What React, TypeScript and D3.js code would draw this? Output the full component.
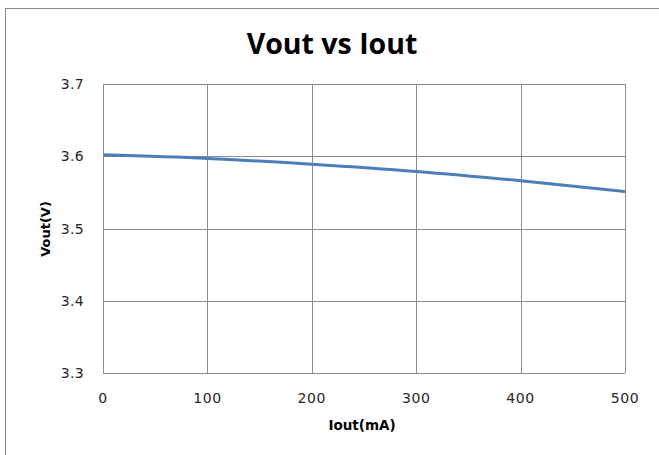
import React, { useEffect, useRef } from "react";
import * as d3 from "d3";

const iout = [0, 100, 200, 300, 400, 500];
const vout = [3.602, 3.597, 3.589, 3.579, 3.566, 3.551];
const xTicks = [0, 100, 200, 300, 400, 500];
const yTicks = [3.3, 3.4, 3.5, 3.6, 3.7];

const W = 659;
const H = 455;
const margin = { top: 84, right: 34, bottom: 82, left: 103 };

export default function App() {
  const ref = useRef<SVGSVGElement>(null);

  useEffect(() => {
    const svg = d3.select(ref.current);
    svg.selectAll("*").remove();
    const titleFont = "'Open Sans', 'DejaVu Sans', sans-serif";
    const font = "'DejaVu Sans', sans-serif";

    // outer chart border
    svg.append("rect")
      .attr("x", 5.5).attr("y", 8.5)
      .attr("width", W).attr("height", H)
      .attr("fill", "white").attr("stroke", "#868686").attr("stroke-width", 1);

    const innerW = W - margin.left - margin.right;
    const innerH = H - margin.top - margin.bottom;

    const x = d3.scaleLinear().domain([0, 500]).range([0, innerW]);
    const y = d3.scaleLinear().domain([3.3, 3.7]).range([innerH, 0]);

    const g = svg.append("g").attr("transform", `translate(${margin.left},${margin.top})`);

    // grid
    g.selectAll(".vgrid").data(xTicks).join("line")
      .attr("x1", d => Math.round(x(d)) + 0.5).attr("x2", d => Math.round(x(d)) + 0.5)
      .attr("y1", 0).attr("y2", innerH)
      .attr("stroke", "#8c8c8c").attr("stroke-width", 1);
    g.selectAll(".hgrid").data(yTicks).join("line")
      .attr("x1", 0).attr("x2", innerW)
      .attr("y1", d => Math.round(y(d)) + 0.5).attr("y2", d => Math.round(y(d)) + 0.5)
      .attr("stroke", "#8c8c8c").attr("stroke-width", 1);

    // tick labels
    g.selectAll(".xl").data(xTicks).join("text")
      .attr("x", d => x(d)).attr("y", innerH + 30)
      .attr("text-anchor", "middle")
      .style("font-family", font).style("font-size", "14px").style("letter-spacing", "0.6px")
      .attr("fill", "#262626")
      .text(d => d);
    g.selectAll(".yl").data(yTicks).join("text")
      .attr("x", -19).attr("y", d => y(d) + 5)
      .attr("text-anchor", "end")
      .style("font-family", font).style("font-size", "14px").style("letter-spacing", "0.3px")
      .attr("fill", "#262626")
      .text(d => d3.format(".1f")(d));

    // line
    const line = d3.line<number>()
      .x((_, i) => x(iout[i]))
      .y(d => y(d))
      .curve(d3.curveMonotoneX);
    g.append("path")
      .datum(vout)
      .attr("d", line)
      .attr("fill", "none")
      .attr("stroke", "#4a7ebb")
      .attr("stroke-width", 3);

    // titles
    svg.append("text")
      .attr("x", 332).attr("y", 54)
      .attr("text-anchor", "middle")
      .style("font-family", titleFont).style("font-size", "28.5px").style("font-weight", "bold")
      .text("Vout vs Iout");
    svg.append("text")
      .attr("x", 362).attr("y", 430)
      .attr("text-anchor", "middle")
      .style("font-family", font).style("font-size", "13.5px").style("font-weight", "bold")
      .text("Iout(mA)");
    svg.append("text")
      .attr("transform", "translate(50,229) rotate(-90)")
      .attr("text-anchor", "middle")
      .style("font-family", font).style("font-size", "13px").style("font-weight", "bold")
      .text("Vout(V)");
  }, []);

  return (
    <div style={{ position: "absolute", left: 0, top: 0 }}>
      <svg ref={ref} width={W} height={H} style={{ display: "block" }} />
    </div>
  );
}
